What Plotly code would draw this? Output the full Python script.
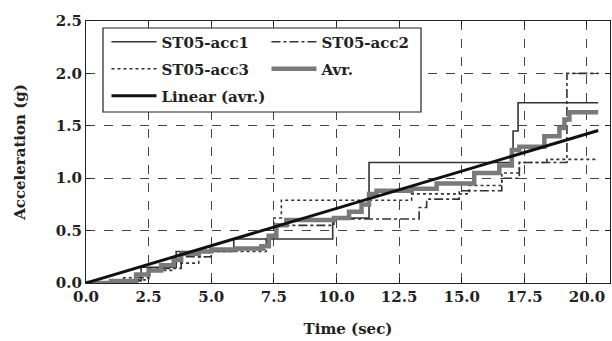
import plotly.graph_objects as go

# ---- data ----
acc1_t = [0, 1.0, 2.2, 3.6, 5.9, 9.85, 11.3, 17.05, 17.25, 20.45]
acc1_g = [0, 0.02, 0.15, 0.30, 0.42, 0.62, 1.15, 1.45, 1.72, 1.72]

acc2_t = [0, 1.5, 2.5, 3.8, 5.0, 7.2, 7.6, 9.9, 13.3, 13.6, 14.9, 16.6, 17.3, 19.2, 20.45]
acc2_g = [0, 0.05, 0.14, 0.25, 0.32, 0.45, 0.55, 0.61, 0.72, 0.80, 0.88, 1.00, 1.15, 2.00, 2.00]

acc3_t = [0, 1.2, 2.5, 3.5, 4.5, 5.0, 7.2, 7.5, 7.8, 12.2, 13.0, 15.3, 16.6, 17.3, 18.4, 20.45]
acc3_g = [0, 0.03, 0.12, 0.19, 0.25, 0.30, 0.45, 0.62, 0.79, 0.79, 0.85, 0.93, 1.05, 1.15, 1.18, 1.18]

avr_t = [0, 1.0, 2.0, 2.5, 3.0, 3.5, 3.8, 4.5, 5.0, 6.0, 7.0, 7.3, 7.6, 8.0, 9.9,
         10.5, 11.0, 11.3, 11.6, 13.0, 14.0, 15.5, 16.5, 17.0, 17.3, 18.3, 18.9,
         19.1, 19.3, 20.45]
avr_g = [0, 0.02, 0.08, 0.12, 0.17, 0.22, 0.28, 0.30, 0.32, 0.33, 0.35, 0.45, 0.55, 0.60, 0.62,
         0.68, 0.75, 0.85, 0.88, 0.90, 0.95, 1.05, 1.12, 1.27, 1.30, 1.40, 1.48,
         1.56, 1.63, 1.63]

lin_t = [0, 20.45]
lin_g = [0, 1.455]

x_ticks = [0, 2.5, 5, 7.5, 10, 12.5, 15, 17.5, 20]
y_ticks = [0, 0.5, 1.0, 1.5, 2.0, 2.5]

FONT = "DejaVu Serif"
fig = go.Figure()

fig.add_trace(go.Scatter(x=acc1_t, y=acc1_g, mode="lines", line_shape="hv",
                         name="ST05-acc1", line=dict(color="#333333", width=1.6),
                         legend="legend"))
fig.add_trace(go.Scatter(x=acc2_t, y=acc2_g, mode="lines", line_shape="hv",
                         name="ST05-acc2", line=dict(color="#333333", width=1.6, dash="dashdot"),
                         legend="legend"))
fig.add_trace(go.Scatter(x=acc3_t, y=acc3_g, mode="lines", line_shape="hv",
                         name="ST05-acc3", line=dict(color="#333333", width=1.6, dash="dot"),
                         legend="legend2"))
fig.add_trace(go.Scatter(x=avr_t, y=avr_g, mode="lines", line_shape="hv",
                         name="Avr.", line=dict(color="#7a7a7a", width=4.5),
                         legend="legend2"))
fig.add_trace(go.Scatter(x=lin_t, y=lin_g, mode="lines",
                         name="Linear (avr.)", line=dict(color="#111111", width=3),
                         legend="legend3"))

TXT = dict(family=FONT, size=15, color="#222", weight="bold")

axis_common = dict(showline=True, linecolor="#222", linewidth=1.2, mirror="ticks",
                   ticks="inside", ticklen=5, tickcolor="#222",
                   showgrid=True, gridcolor="#444", griddash="dash", gridwidth=1,
                   zeroline=False, tickfont=TXT)

fig.update_xaxes(range=[0, 20.92], tickvals=x_ticks, tickformat=".1f",
                 title=dict(text="Time (sec)", font=TXT, standoff=18),
                 **axis_common)
fig.update_yaxes(range=[0, 2.5], tickvals=y_ticks, tickformat=".1f",
                 title=dict(text="Acceleration (g)", font=TXT, standoff=26),
                 **axis_common)

leg_common = dict(orientation="h", xanchor="left", yanchor="middle",
                  bgcolor="rgba(0,0,0,0)", borderwidth=0,
                  entrywidth=100, entrywidthmode="pixels", itemwidth=45,
                  font=TXT, tracegroupgap=0)

lx = 0.02 + 10 / 524
fig.update_layout(
    width=612, height=341,
    margin=dict(l=86, r=2, t=21, b=58),
    paper_bgcolor="white", plot_bgcolor="white",
    legend=dict(x=lx, y=1 - (42 - 21) / 262, **leg_common),
    legend2=dict(x=lx, y=1 - (69 - 21) / 262, **leg_common),
    legend3=dict(x=lx, y=1 - (96 - 21) / 262, **leg_common),
    shapes=[dict(type="rect", xref="paper", yref="paper",
                 x0=(103 - 86) / 524, x1=(421 - 86) / 524,
                 y0=1 - (112 - 21) / 262, y1=1 - (28 - 21) / 262,
                 line=dict(color="#222", width=1.2), fillcolor="white", layer="above")],
    showlegend=True,
)

fig.write_html("out.html")
